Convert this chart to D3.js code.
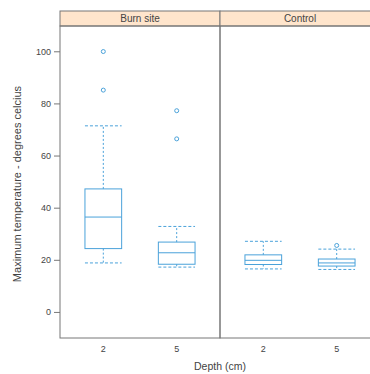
<!DOCTYPE html>
<html>
<head>
<meta charset="utf-8">
<script src="https://cdn.jsdelivr.net/npm/d3@7"></script>
<style>
  body { margin: 0; background: #fff; }
  svg { display: block; font-family: "Liberation Sans", Arial, sans-serif; }
</style>
</head>
<body>
<div id="chart"></div>
<script>
// panels and depths
const sites = ['Burn site', 'Control'];
const depths = ['2', '5'];

// five-number summaries, one entry per site x depth (site order, then depth)
const lowWhisker  = [18.8, 17.2, 16.5, 16.3];
const lowerQuart  = [24.3, 18.3, 18.2, 17.6];
const medians     = [36.4, 22.7, 19.8, 18.8];
const upperQuart  = [47.2, 26.8, 21.9, 20.3];
const highWhisker = [71.4, 32.8, 27.1, 24.1];
const outliers    = [[99.9, 85.1], [77.2, 66.4], [], [25.5]];

const yTicks = [0, 20, 40, 60, 80, 100];

const width = 370, height = 374;
const margin = {top: 11, right: -10, bottom: 36, left: 60};
const stripH = 15;

const svg = d3.select('#chart').append('svg')
  .attr('width', width).attr('height', height);

const boxColor = '#4aa2da';
const frameColor = '#777';
const textColor = '#444';

let panelX = d3.scaleBand()
  .domain(sites)
  .range([margin.left, width - margin.right]);

let y = d3.scaleLinear()
  .domain([-10, 109.7])
  .range([height - margin.bottom, margin.top + stripH]);

let rows = [];
sites.forEach((s, i) => {
  depths.forEach((d, j) => {
    let k = i * depths.length + j;
    rows.push({site: s, depth: d, lo: lowWhisker[k], q1: lowerQuart[k], med: medians[k],
      q3: upperQuart[k], hi: highWhisker[k], out: outliers[k]});
  });
});

sites.forEach((s) => {
  let x0 = panelX(s);
  let pw = panelX.bandwidth();
  let g = svg.append('g').attr('transform', 'translate(' + x0 + ',0)');

  let x = d3.scalePoint().domain(depths).range([0, pw]).padding(0.59);
  let bw = x.step() * 0.5;

  // strip
  g.append('rect')
    .attr('x', 0).attr('y', margin.top)
    .attr('width', pw).attr('height', stripH)
    .attr('fill', '#ffe5cc')
    .attr('stroke', frameColor).attr('stroke-width', 1);

  g.append('text')
    .attr('x', pw / 2).attr('y', margin.top + stripH / 2)
    .attr('dy', '.35em')
    .attr('text-anchor', 'middle')
    .attr('font-size', 10)
    .attr('fill', textColor)
    .text(s);

  // panel frame
  g.append('rect')
    .attr('x', 0).attr('y', margin.top + stripH)
    .attr('width', pw).attr('height', y(-10) - margin.top - stripH)
    .attr('fill', 'none')
    .attr('stroke', frameColor).attr('stroke-width', 1);

  let box = g.selectAll('.box')
    .data(rows.filter((r) => r.site === s))
    .enter().append('g')
    .attr('class', 'box')
    .attr('transform', (d) => 'translate(' + x(d.depth) + ',0)');

  // whiskers
  box.append('line')
    .attr('x1', 0).attr('x2', 0)
    .attr('y1', (d) => y(d.q3)).attr('y2', (d) => y(d.hi))
    .attr('stroke', boxColor).attr('stroke-dasharray', '2,2');
  box.append('line')
    .attr('x1', 0).attr('x2', 0)
    .attr('y1', (d) => y(d.q1)).attr('y2', (d) => y(d.lo))
    .attr('stroke', boxColor).attr('stroke-dasharray', '2,2');
  box.append('line')
    .attr('x1', -bw / 2).attr('x2', bw / 2)
    .attr('y1', (d) => y(d.hi)).attr('y2', (d) => y(d.hi))
    .attr('stroke', boxColor).attr('stroke-dasharray', '3,2');
  box.append('line')
    .attr('x1', -bw / 2).attr('x2', bw / 2)
    .attr('y1', (d) => y(d.lo)).attr('y2', (d) => y(d.lo))
    .attr('stroke', boxColor).attr('stroke-dasharray', '3,2');

  // box and median
  box.append('rect')
    .attr('x', -bw / 2).attr('width', bw)
    .attr('y', (d) => y(d.q3))
    .attr('height', (d) => y(d.q1) - y(d.q3))
    .attr('fill', 'none').attr('stroke', boxColor);
  box.append('line')
    .attr('x1', -bw / 2).attr('x2', bw / 2)
    .attr('y1', (d) => y(d.med)).attr('y2', (d) => y(d.med))
    .attr('stroke', boxColor);

  // outliers
  box.selectAll('circle')
    .data((d) => d.out)
    .enter().append('circle')
    .attr('cx', 0).attr('cy', (v) => y(v))
    .attr('r', 2)
    .attr('fill', 'none').attr('stroke', boxColor);

  // x tick labels
  g.selectAll('.xlab')
    .data(depths)
    .enter().append('text')
    .attr('x', (d) => x(d)).attr('y', y(-10) + 14)
    .attr('text-anchor', 'middle')
    .attr('font-size', 9)
    .attr('fill', textColor)
    .text((d) => d);
});

// y axis
let yAxis = d3.axisLeft(y).tickValues(yTicks).tickSize(6).tickPadding(3);
let ya = svg.append('g')
  .attr('transform', 'translate(' + margin.left + ',0)')
  .call(yAxis);
ya.select('.domain').remove();
ya.selectAll('line').attr('stroke', frameColor);
ya.selectAll('text').attr('font-size', 9).attr('fill', textColor)
  .attr('font-family', '"Liberation Sans", Arial, sans-serif');

// titles
svg.append('text')
  .attr('transform', 'translate(21,184) rotate(-90)')
  .attr('text-anchor', 'middle')
  .attr('font-size', 11)
  .attr('fill', textColor)
  .text('Maximum temperature - degrees celcius');

svg.append('text')
  .attr('x', 220).attr('y', 370)
  .attr('text-anchor', 'middle')
  .attr('font-size', 10.5)
  .attr('fill', textColor)
  .text('Depth (cm)');
</script>
</body>
</html>
